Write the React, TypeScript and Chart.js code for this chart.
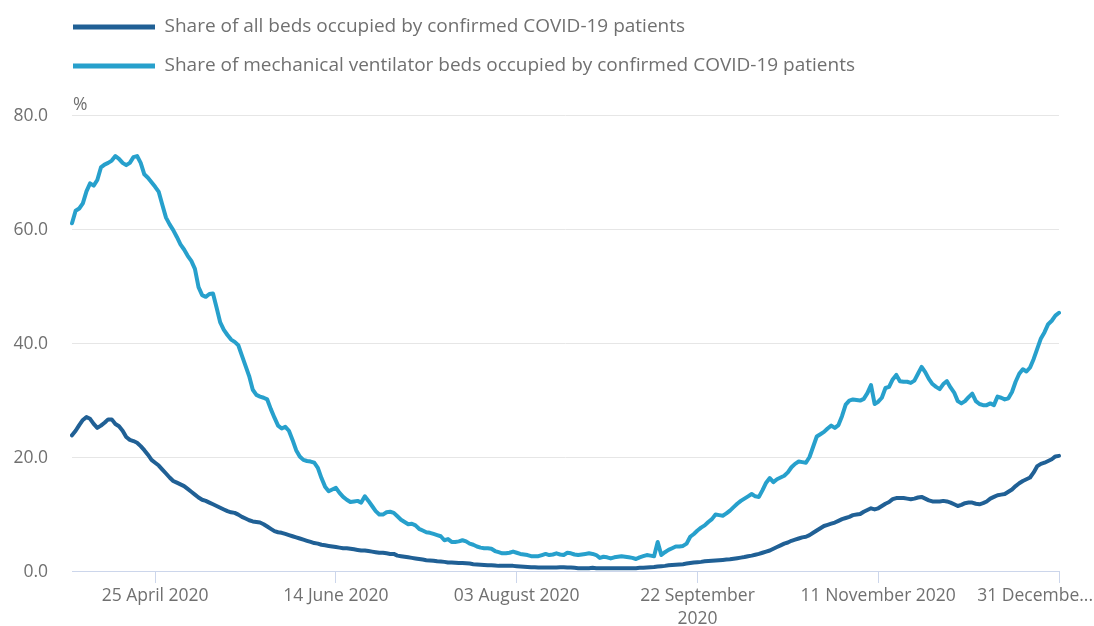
import React, { useEffect, useRef } from 'react';
import { Chart, registerables } from 'chart.js';

Chart.register(...registerables);

// ---------- data ----------
const MONTHS = ['January', 'February', 'March', 'April', 'May', 'June', 'July', 'August', 'September', 'October', 'November', 'December'];
const FIRST_DAY_UTC = Date.UTC(2020, 3, 2);
const DAY_COUNT = 274;

const categories: string[] = [];
for (let i = 0; i < DAY_COUNT; i++) {
  const d = new Date(FIRST_DAY_UTC + i * 86400000);
  categories.push(`${String(d.getUTCDate()).padStart(2, '0')} ${MONTHS[d.getUTCMonth()]} ${d.getUTCFullYear()}`);
}

const seriesNames = [
  'Share of all beds occupied by confirmed COVID-19 patients',
  'Share of mechanical ventilator beds occupied by confirmed COVID-19 patients',
];

const allBedsShare = [
  23.8, 24.6, 25.6, 26.5, 27.0, 26.7, 25.8, 25.1, 25.5, 26.0,
  26.6, 26.6, 25.8, 25.4, 24.6, 23.5, 23.0, 22.8, 22.5, 21.9,
  21.2, 20.4, 19.5, 19.0, 18.5, 17.8, 17.1, 16.4, 15.8, 15.5,
  15.2, 14.9, 14.4, 13.9, 13.4, 12.9, 12.5, 12.3, 12.0, 11.7,
  11.4, 11.1, 10.8, 10.5, 10.3, 10.2, 9.9, 9.5, 9.2, 8.9,
  8.7, 8.6, 8.5, 8.2, 7.8, 7.4, 7.0, 6.8, 6.7, 6.5,
  6.3, 6.1, 5.9, 5.7, 5.5, 5.3, 5.1, 4.9, 4.8, 4.6,
  4.5, 4.4, 4.3, 4.2, 4.1, 4.0, 4.0, 3.9, 3.8, 3.7,
  3.6, 3.6, 3.5, 3.4, 3.3, 3.2, 3.2, 3.1, 3.0, 3.0,
  2.7, 2.6, 2.5, 2.4, 2.3, 2.2, 2.1, 2.0, 1.9, 1.85,
  1.8, 1.7, 1.65, 1.6, 1.5, 1.5, 1.45, 1.4, 1.4, 1.35,
  1.3, 1.2, 1.15, 1.1, 1.05, 1.0, 1.0, 0.95, 0.9, 0.9,
  0.9, 0.9, 0.9, 0.85, 0.8, 0.75, 0.7, 0.65, 0.65, 0.6,
  0.6, 0.6, 0.6, 0.6, 0.6, 0.65, 0.65, 0.6, 0.6, 0.55,
  0.5, 0.5, 0.5, 0.5, 0.55, 0.5, 0.5, 0.5, 0.5, 0.5,
  0.5, 0.5, 0.5, 0.5, 0.5, 0.5, 0.5, 0.55, 0.55, 0.6,
  0.65, 0.7, 0.8, 0.85, 0.9, 1.0, 1.05, 1.1, 1.15, 1.2,
  1.3, 1.4, 1.5, 1.55, 1.6, 1.7, 1.75, 1.8, 1.85, 1.9,
  1.95, 2.0, 2.05, 2.15, 2.25, 2.35, 2.45, 2.6, 2.7, 2.85,
  3.0, 3.2, 3.4, 3.6, 3.9, 4.2, 4.5, 4.8, 5.0, 5.3,
  5.5, 5.7, 5.9, 6.0, 6.3, 6.7, 7.1, 7.5, 7.9, 8.1,
  8.3, 8.5, 8.8, 9.1, 9.3, 9.5, 9.8, 9.9, 10.0, 10.4,
  10.7, 11.0, 10.8, 11.0, 11.4, 11.8, 12.1, 12.6, 12.8, 12.8,
  12.8, 12.7, 12.6, 12.7, 12.9, 13.0, 12.7, 12.4, 12.2, 12.2,
  12.2, 12.3, 12.2, 12.0, 11.7, 11.4, 11.6, 11.9, 12.0, 12.0,
  11.8, 11.7, 11.9, 12.2, 12.7, 13.0, 13.3, 13.4, 13.5, 13.9,
  14.3, 14.9, 15.4, 15.8, 16.1, 16.4, 17.3, 18.4, 18.8, 19.0,
  19.3, 19.6, 20.1, 20.2,
];

const ventilatorBedsShare = [
  61.0, 63.2, 63.6, 64.5, 66.6, 68.0, 67.6, 68.6, 70.8, 71.3,
  71.6, 72.0, 72.8, 72.3, 71.6, 71.2, 71.6, 72.6, 72.8, 71.6,
  69.6, 69.0, 68.2, 67.4, 66.5, 64.2, 62.0, 60.8, 59.8, 58.6,
  57.3, 56.4, 55.3, 54.4, 53.0, 49.8, 48.4, 48.1, 48.6, 48.7,
  46.2, 43.6, 42.3, 41.4, 40.6, 40.2, 39.6, 37.8, 36.0, 34.2,
  31.8, 30.9, 30.6, 30.4, 30.1, 28.4, 26.9, 25.5, 25.0, 25.3,
  24.6, 23.0, 21.2, 20.1, 19.5, 19.3, 19.2, 19.0, 18.1, 16.3,
  14.8, 14.0, 14.3, 14.6, 13.7, 13.0, 12.5, 12.1, 12.2, 12.3,
  12.0, 13.1, 12.3, 11.4, 10.5, 9.9, 9.9, 10.3, 10.4, 10.2,
  9.6, 9.0, 8.6, 8.2, 8.3, 8.0, 7.4, 7.1, 6.8, 6.7,
  6.5, 6.3, 6.1, 5.4, 5.6, 5.1, 5.1, 5.2, 5.4, 5.2,
  4.8, 4.6, 4.3, 4.1, 4.0, 4.0, 3.9, 3.5, 3.3, 3.1,
  3.1, 3.2, 3.4, 3.2, 3.0, 2.9, 2.8, 2.6, 2.6, 2.6,
  2.8, 3.0, 2.8, 2.9, 3.1, 2.9, 2.8, 3.2, 3.1, 2.9,
  2.8, 2.9, 3.0, 3.1, 3.0, 2.8, 2.3, 2.5, 2.4, 2.2,
  2.4, 2.5, 2.6, 2.5, 2.4, 2.3, 2.1, 2.4, 2.6, 2.8,
  2.7, 2.6, 5.1, 2.8, 3.3, 3.7, 4.0, 4.3, 4.3, 4.4,
  4.8, 6.0, 6.5, 7.1, 7.6, 8.0, 8.6, 9.1, 9.9, 9.8,
  9.7, 10.1, 10.6, 11.2, 11.8, 12.3, 12.7, 13.1, 13.5, 13.1,
  13.0, 14.2, 15.5, 16.3, 15.6, 16.1, 16.4, 16.7, 17.3, 18.2,
  18.8, 19.2, 19.1, 19.0, 20.0, 21.8, 23.6, 24.0, 24.4, 25.0,
  25.5, 25.1, 25.6, 27.2, 29.2, 29.9, 30.1, 30.0, 29.9, 30.2,
  31.2, 32.6, 29.3, 29.7, 30.4, 32.1, 32.3, 33.6, 34.4, 33.3,
  33.2, 33.2, 33.0, 33.4, 34.6, 35.8, 34.9, 33.7, 32.8, 32.3,
  31.9, 32.8, 33.3, 32.2, 31.3, 29.8, 29.4, 29.8, 30.5, 31.1,
  29.8, 29.3, 29.1, 29.1, 29.4, 29.1, 30.6, 30.4, 30.1, 30.3,
  31.4, 33.2, 34.6, 35.4, 35.0, 35.7, 37.2, 39.0, 40.8, 41.9,
  43.3, 43.9, 44.8, 45.3,
];

const xTickDates = ['25 April 2020', '14 June 2020', '03 August 2020', '22 September 2020', '11 November 2020', '31 December 2020'];
const xTickTexts: (string | string[])[] = ['25 April 2020', '14 June 2020', '03 August 2020', ['22 September', '2020'], '11 November 2020', '31 Decembe...'];
const yTickValues = [0, 20, 40, 60, 80];
const yUnit = '%';

// ---------- styles ----------
const DARK = '#206095';
const LIGHT = '#27a0cc';
const TEXT = '#707070';
const GRID = '#e6e6e6';
const AXIS = '#ccd6eb';
const FAMILY = "'Open Sans', sans-serif";
const FS = 17.5;
const LEGEND_FS = 19;
const LEGEND_PAD = 20;
const X_LINE_HEIGHT = 1.3;
const TICK_LEN = 12;
const TICK_PAD = 2;

const tickIndexes = xTickDates.map((d) => categories.indexOf(d));
const lastTickK = xTickDates.length - 1;

const legendPlacePlugin = {
  id: 'legendPlace',
  beforeLayout(chart: any) {
    const lg = chart.legend;
    if (lg && !lg.__gapPatched) {
      const orig = lg.fit.bind(lg);
      lg.fit = function () {
        orig();
        lg.height += 29.5;
      };
      lg.__gapPatched = true;
    }
  },
  afterLayout(chart: any) {
    const lg = chart.legend;
    if (lg) {
      const w = lg.right - lg.left;
      lg.left = 73 - LEGEND_PAD;
      lg.right = lg.left + w;
    }
  },
};

const extraTextPlugin = {
  id: 'extraText',
  afterDraw(chart: any) {
    const { ctx, chartArea } = chart;
    const xs = chart.scales.x;
    ctx.save();
    ctx.font = `${FS}px ${FAMILY}`;
    ctx.fillStyle = TEXT;
    ctx.textBaseline = 'middle';
    ctx.textAlign = 'left';
    ctx.fillText(yUnit, chartArea.left + 1, chartArea.top - 10);
    const lastText = xTickTexts[lastTickK] as string;
    ctx.textAlign = 'right';
    ctx.fillText(lastText, chart.width - 1, xs.top + TICK_LEN + TICK_PAD + (FS * X_LINE_HEIGHT) / 2);
    ctx.restore();
  },
};

export default function App() {
  const canvasRef = useRef<HTMLCanvasElement | null>(null);

  useEffect(() => {
    document.body.style.margin = '0';
    const canvas = canvasRef.current;
    if (!canvas) return;
    const chart = new Chart(canvas, {
      type: 'line',
      data: {
        labels: categories,
        datasets: [
          {
            label: seriesNames[0],
            data: allBedsShare,
            borderColor: DARK,
            backgroundColor: DARK,
            borderWidth: 4,
            pointRadius: 0,
            pointHoverRadius: 0,
            tension: 0,
            borderJoinStyle: 'round',
            borderCapStyle: 'round',
          },
          {
            label: seriesNames[1],
            data: ventilatorBedsShare,
            borderColor: LIGHT,
            backgroundColor: LIGHT,
            borderWidth: 4,
            pointRadius: 0,
            pointHoverRadius: 0,
            tension: 0,
            borderJoinStyle: 'round',
            borderCapStyle: 'round',
          },
        ],
      },
      options: {
        animation: false,
        responsive: false,
        layout: { padding: { left: 8, right: 35, top: -2.5, bottom: 0 } },
        plugins: {
          legend: {
            display: true,
            position: 'top',
            align: 'start',
            labels: {
              boxWidth: 82,
              boxHeight: 5,
              padding: LEGEND_PAD,
              color: TEXT,
              font: { family: FAMILY, size: LEGEND_FS },
              generateLabels: (ch: any) =>
                ch.data.datasets.map((ds: any, i: number) => ({
                  text: ds.label,
                  fillStyle: ds.borderColor,
                  strokeStyle: ds.borderColor,
                  lineWidth: 0,
                  hidden: false,
                  datasetIndex: i,
                  fontColor: TEXT,
                })),
            },
          },
          tooltip: { enabled: false },
        },
        scales: {
          x: {
            type: 'category',
            grid: {
              drawOnChartArea: false,
              drawTicks: true,
              tickLength: TICK_LEN,
              lineWidth: 1,
              color: (ctx: any) => (tickIndexes.includes(ctx.index) ? AXIS : 'rgba(0,0,0,0)'),
            },
            border: { display: true, color: AXIS, width: 1 },
            ticks: {
              autoSkip: false,
              maxRotation: 0,
              minRotation: 0,
              padding: TICK_PAD,
              color: TEXT,
              font: { family: FAMILY, size: FS, lineHeight: X_LINE_HEIGHT },
              callback: (_v: any, index: number) => {
                const k = tickIndexes.indexOf(index);
                if (k < 0 || k === lastTickK) return '';
                return xTickTexts[k];
              },
            },
            afterFit: (s: any) => {
              s.height = 55;
            },
          },
          y: {
            min: yTickValues[0],
            max: yTickValues[yTickValues.length - 1],
            grid: {
              drawTicks: false,
              lineWidth: 1,
              color: (ctx: any) => (ctx.tick && ctx.tick.value === 0 ? 'rgba(0,0,0,0)' : GRID),
            },
            border: { display: false },
            ticks: {
              stepSize: 20,
              padding: 24,
              labelOffset: 1,
              color: TEXT,
              font: { family: FAMILY, size: FS },
              callback: (v: any) => Number(v).toFixed(1),
            },
            afterFit: (s: any) => {
              s.width = 64;
            },
          },
        },
      } as any,
      plugins: [legendPlacePlugin, extraTextPlugin],
    });
    return () => chart.destroy();
  }, []);

  return (
    <div style={{ width: 1094, height: 626 }}>
      <canvas ref={canvasRef} width={1094} height={626} style={{ display: 'block' }} />
    </div>
  );
}
